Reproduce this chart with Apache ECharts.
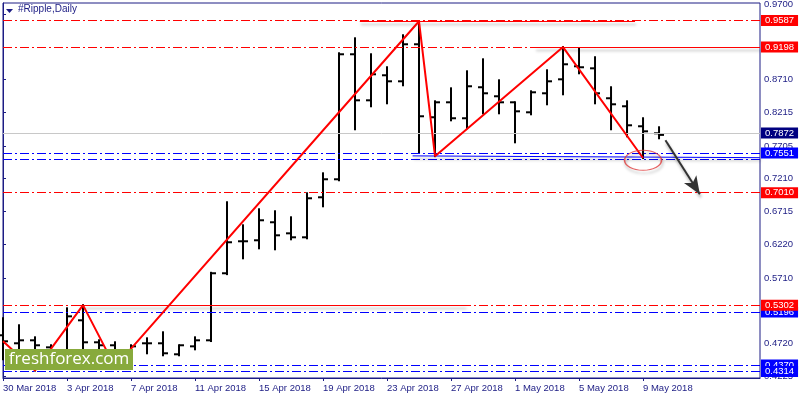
<!DOCTYPE html>
<html><head><meta charset="utf-8">
<script src="https://cdn.jsdelivr.net/npm/echarts@6/dist/echarts.min.js"></script>
<style>html,body{margin:0;padding:0;background:#fff}#c{width:800px;height:400px}</style>
</head><body><div id="c"></div>
<script>
// ---- data ----
const dates = ['30 Mar','31 Mar','1 Apr','2 Apr','3 Apr','4 Apr','5 Apr','6 Apr','7 Apr','8 Apr',
  '9 Apr','10 Apr','11 Apr','12 Apr','13 Apr','14 Apr','15 Apr','16 Apr','17 Apr','18 Apr',
  '19 Apr','20 Apr','21 Apr','22 Apr','23 Apr','24 Apr','25 Apr','26 Apr','27 Apr','28 Apr',
  '29 Apr','30 Apr','1 May','2 May','3 May','4 May','5 May','6 May','7 May','8 May','9 May','10 May'];
const open  = [0.4847,0.4726,0.4771,0.4665,0.4560,0.5073,0.4741,0.4696,0.4590,0.4726,
  0.4726,0.4560,0.4680,0.4771,0.5783,0.6266,0.6281,0.6553,0.6386,0.6326,
  0.6930,0.7202,0.9089,0.8394,0.8772,0.8681,0.9240,0.8138,0.8364,0.8123,
  0.8591,0.8455,0.8364,0.8213,0.8500,0.8711,0.8908,0.8877,0.8425,0.8304,0.8002,0.7896];
const high  = [0.5103,0.4998,0.4816,0.4696,0.5254,0.5302,0.4771,0.4741,0.4696,0.4801,
  0.4892,0.4696,0.4816,0.5790,0.6855,0.6507,0.6749,0.6719,0.6628,0.6990,
  0.7292,0.9104,0.9330,0.9089,0.8893,0.9376,0.9587,0.8379,0.8575,0.8832,
  0.9013,0.8696,0.8364,0.8530,0.8847,0.9198,0.9179,0.9044,0.8591,0.8379,0.8123,0.7987];
const low   = [0.4484,0.4590,0.4314,0.4500,0.4530,0.4514,0.4590,0.4370,0.4514,0.4575,
  0.4545,0.4545,0.4635,0.4760,0.5770,0.6009,0.6160,0.6145,0.6296,0.6311,
  0.6794,0.7187,0.7957,0.8304,0.8349,0.8621,0.7609,0.7551,0.8092,0.7972,
  0.8198,0.8198,0.7760,0.8183,0.8334,0.8485,0.8802,0.8349,0.7957,0.7851,0.7523,0.7821];
const close = [0.4756,0.4771,0.4696,0.4560,0.5133,0.4741,0.4696,0.4620,0.4680,0.4726,
  0.4575,0.4696,0.4771,0.5783,0.6251,0.6266,0.6583,0.6356,0.6326,0.6915,
  0.7202,0.9089,0.8394,0.8787,0.8681,0.9240,0.8153,0.8364,0.8123,0.8606,
  0.8500,0.8364,0.8228,0.8515,0.8681,0.8938,0.8893,0.8500,0.8334,0.8017,0.7926,0.7872];
const xTicks = [0,4,8,12,16,20,24,28,32,36,40];
const yTicks = [0.9700,0.8710,0.8215,0.7705,0.7210,0.6715,0.6220,0.5710,0.4720,0.4225];
const redLevels = [0.9587,0.9198,0.7010,0.5302];
const blueLevels = [0.7530,0.7551,0.5196,0.4370,0.4314];
const blueLabeled = [0.7551,0.5196,0.4370,0.4314];
const currentPrice = 0.7872;
const zigzag = [[0,0.4756],[2,0.4314],[5,0.5302],[7,0.4370],[26,0.9587],[27,0.7551],[35,0.9198],[40,0.7523]];
const redSegments = [[[22.3,0.9587],[39.5,0.9587]],[[33.25,0.9198],[47.3,0.9198]],[[4.8,0.5302],[28.9,0.5302]]];
const blueSegment = [[25.6,0.7555],[47.3,0.7528]];
const arrow = [[41.4,0.7790],[43.55,0.6975]];
const ellipseAt = [40,0.7489];

// ---- chart ----
const NAVY = '#1c1c84';
const FONT = 'Liberation Sans';
const RED = '#ff0000', BLUE = '#0000ff';
const chart = echarts.init(document.getElementById('c'), null, {renderer:'canvas'});

function boxLabel(v, bg){
  return {show:true, position:'end', distance:1, formatter: v.toFixed(4), backgroundColor:bg,
    color:'#fff', fontSize:9.5, fontFamily:FONT, padding:[1,4,0,4], lineHeight:10};
}
const DASHDOT = [9,3,2,3];
const shadow = {shadowBlur:3, shadowColor:'rgba(0,0,0,0.35)', shadowOffsetY:3, shadowOffsetX:1};

function levelSeries(levels, col, labeled, z){
  return {type:'line', data:[], color:col, z:z,
    markLine:{silent:true, symbol:['none','none'], animation:false,
      lineStyle:{color:col, type:DASHDOT, width:1},
      data: levels.map(v=>({yAxis:v, label: labeled.includes(v) ? boxLabel(v,col) : {show:false}}))}};
}
function segSeries(segs, col, z){
  return {type:'line', data:[], color:col, z:z,
    markLine:{silent:true, symbol:['none','none'], animation:false, label:{show:false},
      lineStyle:Object.assign({color:col, type:'solid', width:1}, shadow),
      data: segs.map(s=>[{coord:s[0]},{coord:s[1]}])}};
}

const option = {
  animation:false,
  backgroundColor:'#fff',
  grid:{left:3,right:40,top:3,bottom:22,show:true,borderColor:NAVY,borderWidth:1,outerBoundsMode:'none',containLabel:false},
  xAxis:{type:'value',min:0,max:47.31,
    axisLine:{show:true,lineStyle:{color:NAVY}},
    axisTick:{show:true,customValues:xTicks,length:3,lineStyle:{color:NAVY}},
    axisLabel:{customValues:xTicks,formatter:v=>dates[v]+' 2018',align:'left',margin:5,color:NAVY,fontSize:9.5,fontFamily:FONT},
    splitLine:{show:false}},
  yAxis:{type:'value',position:'right',min:0.4202,max:0.9863,
    axisLine:{show:true,lineStyle:{color:NAVY}},
    axisTick:{show:true,customValues:yTicks,length:3,lineStyle:{color:NAVY}},
    axisLabel:{customValues:yTicks,margin:4,color:NAVY,fontSize:9.5,fontFamily:FONT,
      formatter:v=> Math.abs(v-0.97)<1e-6 ? '{t|'+v.toFixed(4)+'}' : v.toFixed(4),
      rich:{t:{padding:[0,0,19,0],color:NAVY,fontSize:9.5,fontFamily:FONT}}},
    splitLine:{show:false}},
  graphic:[
    {type:'polygon',shape:{points:[[6,9],[13,9],[9.5,13]]},style:{fill:NAVY},z:10},
    {type:'text',left:18,top:4,style:{text:'#Ripple,Daily',fill:NAVY,font:'10px '+FONT},z:10},
    {type:'rect',left:5,top:349,shape:{width:128,height:21},style:{fill:'#88aa3c'},z:20},
    {type:'text',x:69,y:359.5,style:{text:'freshforex.com',fill:'#fff',font:'17px "Open Sans"',align:'center',verticalAlign:'middle'},z:21}
  ],
  series:[
    {type:'line', data:[], color:'#c8c8c8', z:2,
      markLine:{silent:true, symbol:['none','none'], animation:false,
        lineStyle:{color:'#c8c8c8', type:'solid', width:1},
        data:[{yAxis:currentPrice, label:boxLabel(currentPrice,'#000080')}]}},
    levelSeries(blueLevels, BLUE, blueLabeled, 2),
    levelSeries(redLevels, RED, redLevels, 2),
    segSeries(redSegments, RED, 3),
    segSeries([blueSegment], BLUE, 3),
    {type:'custom',z:4,
      data:dates.map((d,i)=>[i,open[i],high[i],low[i],close[i]]),
      encode:{x:0,y:[1,2,3,4]},
      renderItem:(params,api)=>{
        const x=api.value(0);
        const pH=api.coord([x,api.value(2)]), pL=api.coord([x,api.value(3)]);
        const pO=api.coord([x,api.value(1)]), pC=api.coord([x,api.value(4)]);
        const st={stroke:'#000',lineWidth:2};
        return {type:'group',children:[
          {type:'line',shape:{x1:pH[0],y1:pH[1]-1,x2:pL[0],y2:pL[1]+1},style:st},
          {type:'line',shape:{x1:pO[0]-5,y1:pO[1],x2:pO[0],y2:pO[1]},style:st},
          {type:'line',shape:{x1:pC[0],y1:pC[1],x2:pC[0]+5,y2:pC[1]},style:st}
        ]};
      }},
    {type:'line',z:5,data:zigzag,symbol:'none',color:RED,lineStyle:{color:RED,width:2},silent:true},
    {type:'scatter',z:6,data:[ellipseAt],symbol:'circle',symbolSize:[37,20],
      itemStyle:Object.assign({color:'rgba(0,0,0,0)',borderColor:'#e03a3a',borderWidth:1.2},shadow),silent:true},
    {type:'line',data:[],z:7,color:'#333',markLine:{silent:true,symbol:['none','arrow'],symbolSize:[11,18],animation:false,label:{show:false},
      lineStyle:Object.assign({color:'#333',width:2,type:'solid'},shadow),
      data:[[{coord:arrow[0]},{coord:arrow[1]}]]}}
  ]
};
chart.setOption(option);
</script></body></html>
